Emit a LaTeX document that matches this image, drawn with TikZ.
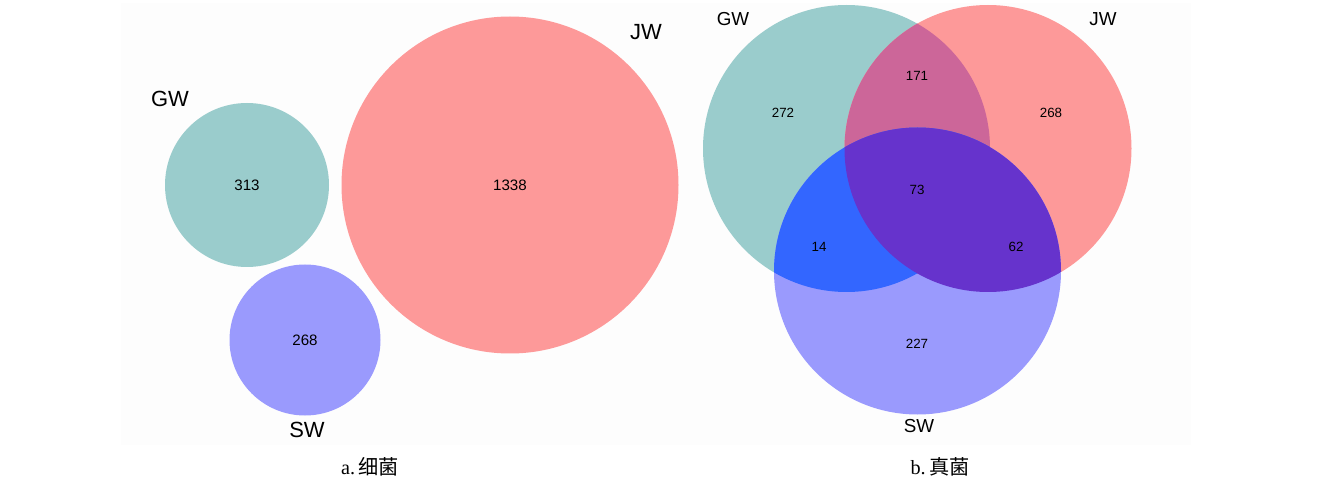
\documentclass[tikz,border=0pt]{standalone}
\usepackage{fontspec}
\usepackage{xcolor}
\newfontfamily\arial{Liberation Sans}
\newfontfamily\serifrm{Liberation Serif}
\newfontfamily\cjk{Noto Sans CJK SC}
\definecolor{gwc}{HTML}{9ACCCC}
\definecolor{jwc}{HTML}{FD9999}
\definecolor{swc}{HTML}{9A9AFD}
\definecolor{gjc}{HTML}{CC6699}
\definecolor{gsc}{HTML}{3366FF}
\definecolor{jsc}{HTML}{6633CC}
\definecolor{panel}{HTML}{FDFDFD}
\tikzset{
    BIG/.style ={font=\arial\fontsize{12.5}{14}\selectfont},
    SET/.style ={font=\arial\fontsize{10.7}{12}\selectfont},
    NUMA/.style ={font=\arial\fontsize{8.6}{10}\selectfont},
    NUMB/.style ={font=\arial\fontsize{7.6}{9}\selectfont},
    CAP/.style ={font=\fontsize{11.5}{13}\selectfont}
}
\begin{document}
\begin{tikzpicture}[x=0.02cm,y=0.02cm]
        \useasboundingbox (0,0) rectangle (1323,484);
        \fill[panel] (121,39) rectangle (1191,481);
        % a. bacteria
        \fill[gwc] (247,299) circle (82);
        \fill[swc] (305,144) circle (75.5);
        \fill[jwc] (510,299) circle (168.5);
        \node[NUMA] (a1) at (247,299) {313};
        \node[NUMA] (a2) at (510,299) {1338};
        \node[NUMA] (a3) at (305,144) {268};
        \node[BIG] (ga) at (170,385) {GW};
        \node[BIG] (ja) at (646,452) {JW};
        \node[BIG] (sa) at (307,54) {SW};
        % b. fungi
        \fill[gwc] (846.5,335.5) circle (143.5);
        \fill[jwc] (988,335.5) circle (143.5);
        \fill[swc] (917.5,213) circle (143.5);
        \begin{scope}
            \clip (846.5,335.5) circle (143.5);
            \fill[gjc] (988,335.5) circle (143.5);
            \fill[gsc] (917.5,213) circle (143.5);
        \end{scope}
        \begin{scope}
            \clip (988,335.5) circle (143.5);
            \fill[jsc] (917.5,213) circle (143.5);
        \end{scope}
        \node[NUMB] (b1) at (783,371) {272};
        \node[NUMB] (b2) at (917,408) {171};
        \node[NUMB] (b3) at (1051,371) {268};
        \node[NUMB] (b4) at (917,294) {73};
        \node[NUMB] (b5) at (819,237) {14};
        \node[NUMB] (b6) at (1016,237) {62};
        \node[NUMB] (b7) at (917,140) {227};
        \node[SET] (gb) at (733,465) {GW};
        \node[SET] (jb) at (1103,465) {JW};
        \node[SET] (sb) at (919,58) {SW};
        % captions
        \node[CAP] (ca) at (370,17) {\serifrm a.\,\cjk 细菌};
        \node[CAP] (cb) at (940,17) {\serifrm b.\,\cjk 真菌};
    \end{tikzpicture}
\end{document}
